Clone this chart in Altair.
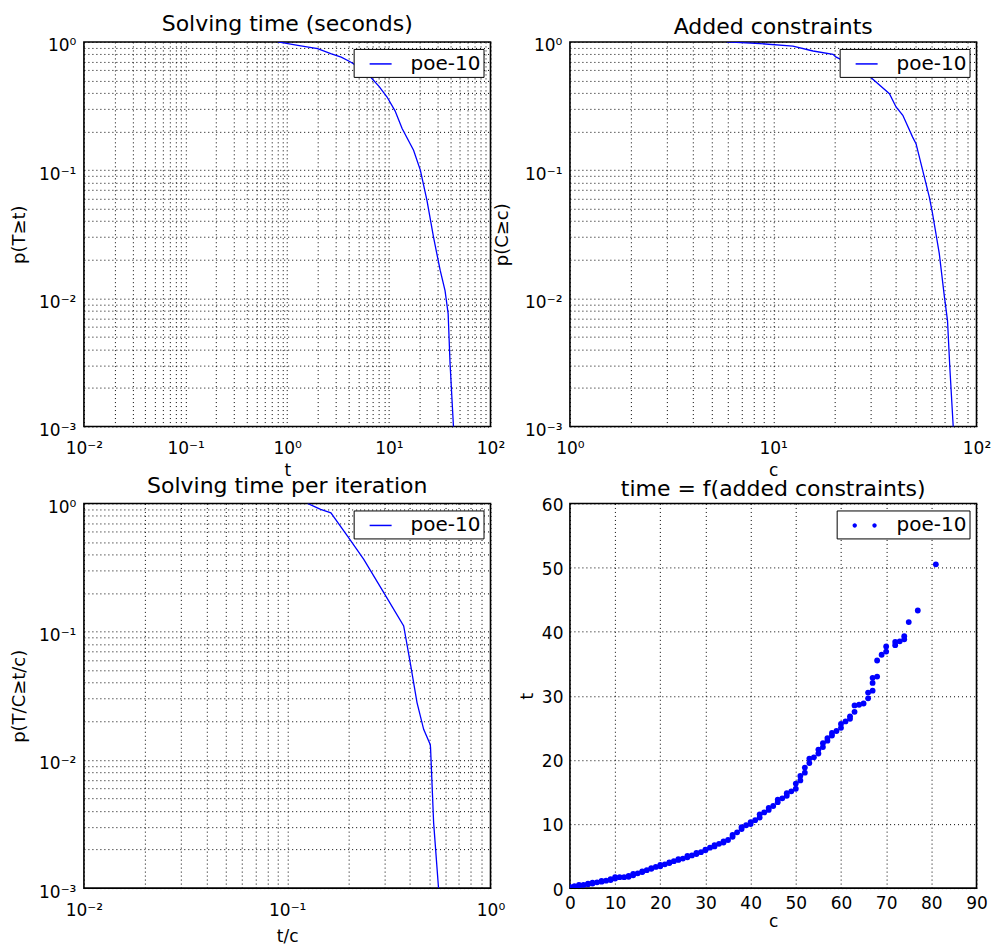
import altair as alt
import pandas as pd

SERIES = "poe-10"

# Panel 1: p(T >= t) versus solving time t (seconds)
time_t = [0.81, 1.27, 1.99, 2.68, 3.4, 4.2, 5.3, 6.6, 8.0, 9.6, 11.5, 13.5, 17.5,
          20.4, 23.7, 27.5, 32.0, 35.7, 38.3, 40.0, 43.2, 50.5]
time_p = [1.0, 0.942, 0.888, 0.81, 0.76, 0.698, 0.62, 0.533, 0.45, 0.372, 0.29, 0.211,
          0.143, 0.1, 0.058, 0.030, 0.0165, 0.0115, 0.0076, 0.0031, 0.001, 0.0003]

# Panel 2: p(C >= c) versus added constraints c
cons_c = [5.9, 8.6, 12.5, 15.7, 19.7, 20.3, 23.5, 28.7, 37.3, 40.2, 43.4, 48.5, 50.4,
          55.4, 58.6, 60.8, 65.6, 69.4, 72.0, 73.9, 76.8, 81.0]
cons_p = [1.0, 0.971, 0.926, 0.85, 0.80, 0.764, 0.68, 0.566, 0.395, 0.311, 0.268, 0.181,
          0.161, 0.0883, 0.0617, 0.0457, 0.0223, 0.0105, 0.0067, 0.0029, 0.001, 0.0003]

# Panel 3: p(T/C >= t/c) versus time per iteration t/c
ratio_r = [0.126, 0.146, 0.164, 0.198, 0.238, 0.299, 0.374, 0.403, 0.435, 0.469, 0.505,
           0.507, 0.525, 0.555, 0.575]
ratio_p = [1.0, 0.898, 0.846, 0.556, 0.366, 0.201, 0.111, 0.057, 0.028, 0.0173, 0.0132,
           0.0125, 0.00324, 0.001, 0.0004]

# Panel 4: time t versus added constraints c
sc_c = [0, 0, 1, 1, 2, 2, 3, 4, 4, 5, 5, 6, 7, 7, 8, 9, 9, 10, 10, 11, 12, 13, 13, 14, 14,
        15, 16, 16, 17, 18, 18, 19, 20, 20, 21, 22, 22, 23, 24, 24, 25, 26, 26, 27, 28, 28,
        29, 30, 30, 31, 32, 32, 33, 34, 34, 35, 36, 36, 37, 38, 38, 39, 40, 40, 41, 42, 42,
        43, 44, 44, 45, 46, 46, 47, 48, 48, 49, 50, 50, 51, 51, 52, 52, 53, 53, 54, 55, 55,
        56, 56, 57, 57, 58, 58, 59, 60, 60, 61, 62, 62, 63, 63, 64, 65, 66, 66, 67, 67, 67,
        68, 68, 69, 70, 70, 72, 72, 73, 74, 74, 75, 77, 81]
sc_t = [0.05, 0.2, 0.2, 0.3, 0.35, 0.5, 0.5, 0.6, 0.7, 0.7, 0.85, 0.9, 1.0, 1.1, 1.15, 1.25,
        1.4, 1.5, 1.7, 1.7, 1.7, 1.75, 1.9, 2.0, 2.2, 2.3, 2.5, 2.6, 2.8, 3.0, 3.1, 3.3, 3.4,
        3.6, 3.7, 3.9, 4.0, 4.2, 4.4, 4.5, 4.6, 4.8, 5.0, 5.1, 5.3, 5.5, 5.6, 5.9, 6.0, 6.3,
        6.5, 6.7, 6.9, 7.1, 7.3, 7.5, 8.0, 8.3, 8.7, 9.2, 9.5, 9.8, 10.0, 10.3, 10.6, 11.0,
        11.5, 11.8, 12.2, 12.5, 12.8, 13.4, 13.8, 14.0, 14.4, 14.8, 15.1, 15.5, 16.3, 16.8,
        17.5, 18.0, 18.8, 19.5, 20.2, 20.4, 21.0, 21.6, 22.0, 22.6, 23.0, 23.4, 23.8, 24.2,
        24.5, 25.0, 25.6, 26.0, 26.4, 26.8, 27.5, 28.5, 28.6, 28.8, 29.6, 30.5, 30.8, 32.0,
        32.8, 33.0, 35.5, 36.4, 36.9, 37.7, 37.9, 38.4, 38.5, 38.8, 39.3, 41.5, 43.3, 50.5]

FONT = "DejaVu Sans"
BLUE = "#0000ff"
W, H = 407, 385

SUP = {-3: "⁻³", -2: "⁻²", -1: "⁻¹", 0: "⁰", 1: "¹", 2: "²"}


def log_values(lo, hi):
    vals = []
    for e in range(lo, hi):
        for m in range(1, 10):
            vals.append(float(f"{m}e{e}"))
    vals.append(float(f"1e{hi}"))
    return vals


def log_label_expr(lo, hi):
    expr = "''"
    for e in range(hi, lo - 1, -1):
        expr = f"datum.value === {float(f'1e{e}')!r} ? '10{SUP[e]}' : ({expr})"
    return expr


common = dict(grid=True, gridColor="black", gridDash=[1, 3], gridWidth=1, gridOpacity=1,
              domain=False, ticks=False, labelOverlap=False, labelFlush=False,
              labelFont=FONT, labelFontSize=17, labelColor="black",
              titleFont=FONT, titleFontWeight="normal", titleColor="black",
              titleBaseline="alphabetic", titleAlign="center")


def xlog(lo, hi, title, ty):
    return alt.Axis(values=log_values(lo, hi), labelExpr=log_label_expr(lo, hi),
                    labelPadding=14, title=title, titleFontSize=17,
                    titleX=W / 2, titleY=ty, **common)


def ylog(title, tx):
    return alt.Axis(values=log_values(-3, 0), labelExpr=log_label_expr(-3, 0),
                    labelPadding=8, labelOffset=4, title=title, titleFontSize=18,
                    titleX=tx, titleY=H / 2, titleAngle=270, **common)


def line_legend():
    return alt.Legend(title=None, orient="top-right", offset=7, fillColor="white",
                      strokeColor="black", padding=3, labelFont=FONT, labelFontSize=20,
                      labelColor="black", symbolType="stroke", symbolSize=484,
                      symbolStrokeWidth=1.5, symbolOffset=12, labelOffset=18,
                      labelExpr="datum.label + '\u2002'")


def ttl(text, off):
    return alt.TitleParams(text, offset=off, baseline="bottom", fontSize=22, font=FONT,
                           fontWeight="normal", color="black", anchor="middle")


color_scale = alt.Scale(domain=[SERIES], range=[BLUE])

df1 = pd.DataFrame({"t": time_t, "p": time_p, "series": SERIES})
df2 = pd.DataFrame({"c": cons_c, "p": cons_p, "series": SERIES})
df3 = pd.DataFrame({"r": ratio_r, "p": ratio_p, "series": SERIES})
df4 = pd.DataFrame({"c": sc_c, "t": sc_t, "series": SERIES})

ylog_scale = alt.Scale(type="log", domain=[0.001, 1], nice=False)

p1 = alt.Chart(df1).mark_line(clip=True, strokeWidth=1.3).encode(
    x=alt.X("t:Q", scale=alt.Scale(type="log", domain=[0.01, 100], nice=False),
            axis=xlog(-2, 2, "t", 49)),
    y=alt.Y("p:Q", scale=ylog_scale, axis=ylog("p(T≥t)", -59)),
    color=alt.Color("series:N", scale=color_scale, legend=line_legend()),
).properties(width=W, height=H, title=ttl("Solving time (seconds)", -21))

p2 = alt.Chart(df2).mark_line(clip=True, strokeWidth=1.3).encode(
    x=alt.X("c:Q", scale=alt.Scale(type="log", domain=[1, 100], nice=False),
            axis=xlog(0, 2, "c", 49)),
    y=alt.Y("p:Q", scale=ylog_scale, axis=ylog("p(C≥c)", -62)),
    color=alt.Color("series:N", scale=color_scale, legend=line_legend()),
).properties(width=W, height=H, title=ttl("Added constraints", -24))

p3 = alt.Chart(df3).mark_line(clip=True, strokeWidth=1.3).encode(
    x=alt.X("r:Q", scale=alt.Scale(type="log", domain=[0.01, 1], nice=False),
            axis=xlog(-2, 0, "t/c", 53)),
    y=alt.Y("p:Q", scale=ylog_scale, axis=ylog("p(T/C≥t/c)", -59)),
    color=alt.Color("series:N", scale=color_scale, legend=line_legend()),
).properties(width=W, height=H, title=ttl("Solving time per iteration", -21.5))

dots_path = ("M-1.1,0A0.2,0.2,0,1,0,-0.7,0A0.2,0.2,0,1,0,-1.1,0Z"
             "M0.7,0A0.2,0.2,0,1,0,1.1,0A0.2,0.2,0,1,0,0.7,0Z")

p4 = alt.Chart(df4).mark_circle(size=34, opacity=1, clip=True).encode(
    x=alt.X("c:Q", scale=alt.Scale(domain=[0, 90], nice=False),
            axis=alt.Axis(values=list(range(0, 91, 10)), labelPadding=7, title="c",
                          titleFontSize=17, titleX=W / 2, titleY=38, **common)),
    y=alt.Y("t:Q", scale=alt.Scale(domain=[0, 60], nice=False),
            axis=alt.Axis(values=list(range(0, 61, 10)), labelPadding=7, labelOffset=2,
                          title="t", titleFontSize=18, titleX=-37, titleY=H / 2,
                          titleAngle=270, **common)),
    color=alt.Color("series:N", scale=color_scale,
                    legend=alt.Legend(title=None, orient="top-right", offset=7,
                                      fillColor="white", strokeColor="black", padding=3,
                                      labelFont=FONT, labelFontSize=20, labelColor="black",
                                      symbolType=dots_path, symbolSize=484,
                                      symbolOpacity=1, symbolOffset=13, labelOffset=20,
                                      labelExpr="datum.label + '\u2002'")),
).properties(width=W, height=H, title=ttl("time = f(added constraints)", -27))

chart = alt.concat(
    p1, p2, p3, p4, columns=2, spacing={"row": 77, "column": 79.5}, bounds="flush"
).resolve_scale(
    x="independent", y="independent", color="independent"
).resolve_legend(
    color="independent"
).configure_view(
    stroke="black", strokeWidth=1.6
).properties(
    padding={"left": 2, "top": 3.5, "right": 0, "bottom": 0}
)

chart.save("out.html", embed_options={"renderer": "svg", "actions": False})
